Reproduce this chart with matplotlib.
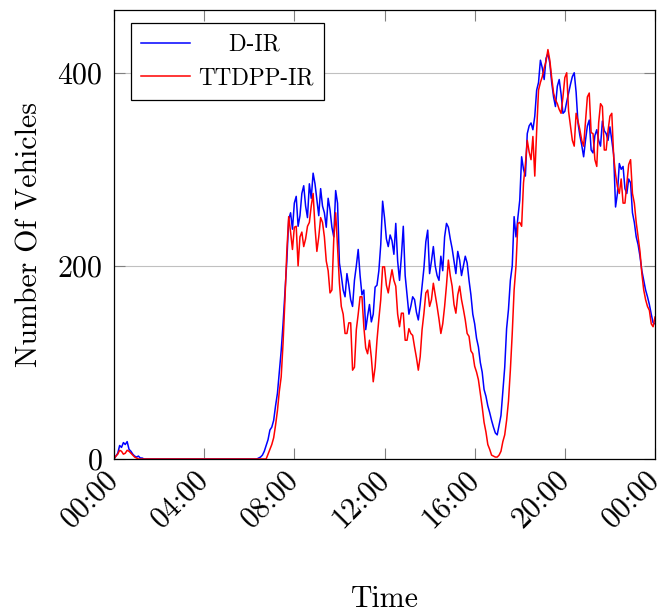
import numpy as np
import matplotlib
matplotlib.use('Agg')
import matplotlib.pyplot as plt

plt.rcParams['font.family'] = ['cmr10']
plt.rcParams['axes.formatter.use_mathtext'] = True
plt.rcParams['mathtext.fontset'] = 'cm'

# sample grid: every 5 minutes over one day (one row below = one hour)
minutes = np.arange(0, 1441, 5)
hours = minutes / 60.0

d_ir = [
    0, 3, 6, 14, 12, 17, 15, 18, 10, 8, 5, 3,
    2, 3, 1, 1, 0, 0, 0, 0, 0, 0, 0, 0,
    0, 0, 0, 0, 0, 0, 0, 0, 0, 0, 0, 0,
    0, 0, 0, 0, 0, 0, 0, 0, 0, 0, 0, 0,
    0, 0, 0, 0, 0, 0, 0, 0, 0, 0, 0, 0,
    0, 0, 0, 0, 0, 0, 0, 0, 0, 0, 0, 0,
    0, 0, 0, 0, 0, 1, 2, 4, 8, 14, 20, 30,
    33, 40, 55, 68, 90, 112, 140, 172, 205, 248, 255, 238,
    265, 272, 241, 252, 275, 283, 262, 250, 285, 270, 296, 285,
    268, 252, 280, 262, 255, 240, 270, 258, 240, 230, 278, 265,
    203, 190, 175, 168, 192, 180, 165, 158, 185, 200, 217, 190,
    170, 175, 134, 148, 160, 142, 150, 178, 180, 195, 222, 267,
    250, 228, 220, 232, 226, 212, 244, 205, 185, 210, 241, 190,
    170, 150, 158, 168, 165, 152, 144, 160, 179, 198, 225, 237,
    192, 205, 220, 200, 190, 185, 210, 195, 230, 244, 240, 228,
    218, 205, 192, 215, 206, 190, 200, 210, 203, 185, 170, 150,
    140, 125, 116, 100, 90, 72, 65, 55, 48, 40, 33, 27,
    25, 35, 45, 70, 95, 135, 155, 185, 200, 251, 230, 250,
    268, 313, 300, 293, 337, 345, 348, 341, 355, 382, 390, 413,
    405, 393, 415, 420, 410, 390, 375, 365, 386, 393, 378, 358,
    360, 370, 379, 388, 396, 400, 380, 348, 335, 325, 313, 330,
    345, 351, 320, 317, 335, 341, 330, 324, 350, 340, 337, 330,
    344, 330, 315, 261, 275, 306, 300, 303, 280, 275, 290, 286,
    255, 245, 230, 222, 210, 195, 185, 175, 168, 160, 150, 141,
    140,
]

ttdpp_ir = [
    0, 3, 5, 9, 8, 5, 6, 9, 8, 6, 4, 2,
    1, 0, 0, 0, 0, 0, 0, 0, 0, 0, 0, 0,
    0, 0, 0, 0, 0, 0, 0, 0, 0, 0, 0, 0,
    0, 0, 0, 0, 0, 0, 0, 0, 0, 0, 0, 0,
    0, 0, 0, 0, 0, 0, 0, 0, 0, 0, 0, 0,
    0, 0, 0, 0, 0, 0, 0, 0, 0, 0, 0, 0,
    0, 0, 0, 0, 0, 0, 0, 0, 0, 0, 5, 10,
    15, 22, 35, 50, 70, 85, 120, 165, 215, 251, 235, 217,
    240, 241, 200, 230, 235, 220, 228, 241, 245, 262, 275, 240,
    215, 230, 250, 245, 230, 205, 195, 172, 175, 228, 255, 220,
    182, 158, 150, 130, 130, 141, 141, 92, 95, 134, 150, 168,
    168, 137, 115, 109, 123, 105, 80, 95, 123, 145, 165, 199,
    199, 180, 172, 185, 196, 185, 179, 150, 137, 151, 151, 123,
    123, 135, 130, 128, 116, 105, 92, 106, 134, 151, 172, 175,
    158, 165, 182, 170, 158, 145, 130, 140, 158, 180, 206, 190,
    179, 160, 151, 170, 179, 165, 155, 144, 130, 127, 112, 109,
    96, 90, 82, 68, 54, 38, 28, 15, 10, 4, 3, 2,
    2, 4, 8, 18, 25, 40, 60, 92, 130, 175, 200, 244,
    245, 241, 286, 305, 330, 318, 310, 334, 293, 340, 382, 390,
    396, 405, 412, 424, 413, 395, 379, 372, 368, 362, 358, 375,
    395, 400, 360, 345, 330, 324, 358, 350, 341, 330, 324, 350,
    375, 379, 338, 337, 310, 303, 348, 368, 365, 320, 320, 340,
    355, 358, 313, 295, 282, 275, 290, 265, 265, 285, 305, 310,
    275, 265, 245, 230, 215, 192, 175, 165, 158, 154, 140, 137,
    147,
]

series_labels = ['D-IR', 'TTDPP-IR']
xtick_hours = [0, 4, 8, 12, 16, 20, 24]
xtick_labels = ['00:00', '04:00', '08:00', '12:00', '16:00', '20:00', '00:00']
ytick_values = [0, 200, 400]

W, H = 668, 615
fig = plt.figure(figsize=(W / 100, H / 100), dpi=100)
ax = fig.add_axes([114 / W, (H - 459) / H, 541 / W, 449 / H])

ax.plot(hours, d_ir, color='#0000ff', lw=1.1, label='    ' + series_labels[0])
ax.plot(hours, ttdpp_ir, color='#ff0000', lw=1.1, label=series_labels[1])

ax.set_xlim(0, 24)
ax.set_ylim(0, 465)
ax.set_xticks(xtick_hours)
ax.set_xticklabels(xtick_labels, rotation=45, ha='right', va='center',
                   rotation_mode='anchor')
ax.set_yticks(ytick_values)
ax.tick_params(direction='in', length=8, width=0.8, color='#808080',
               top=True, right=True, labelsize=21.5)
ax.tick_params(axis='x', pad=12)
ax.tick_params(axis='y', pad=8)
ax.yaxis.grid(True, color='#c0c0c0', lw=0.8)
ax.set_axisbelow(True)
for s in ax.spines.values():
    s.set_linewidth(0.9)
    s.set_color('black')

ax.set_xlabel('Time', fontsize=21.5)
ax.xaxis.set_label_coords(0.5, -0.283)
ax.set_ylabel('Number Of Vehicles', fontsize=21.5)
ax.yaxis.set_label_coords(-0.130, 0.5)

leg = ax.legend(loc='upper left', bbox_to_anchor=(16.7 / 541, 1 - 13.3 / 449),
                borderaxespad=0, fontsize=16.7, frameon=True, fancybox=False,
                edgecolor='black', framealpha=1, handlelength=2.1,
                handletextpad=0.36, borderpad=0.45, labelspacing=0.5)
leg.get_frame().set_linewidth(0.9)

fig.savefig('out.png', dpi=100)
